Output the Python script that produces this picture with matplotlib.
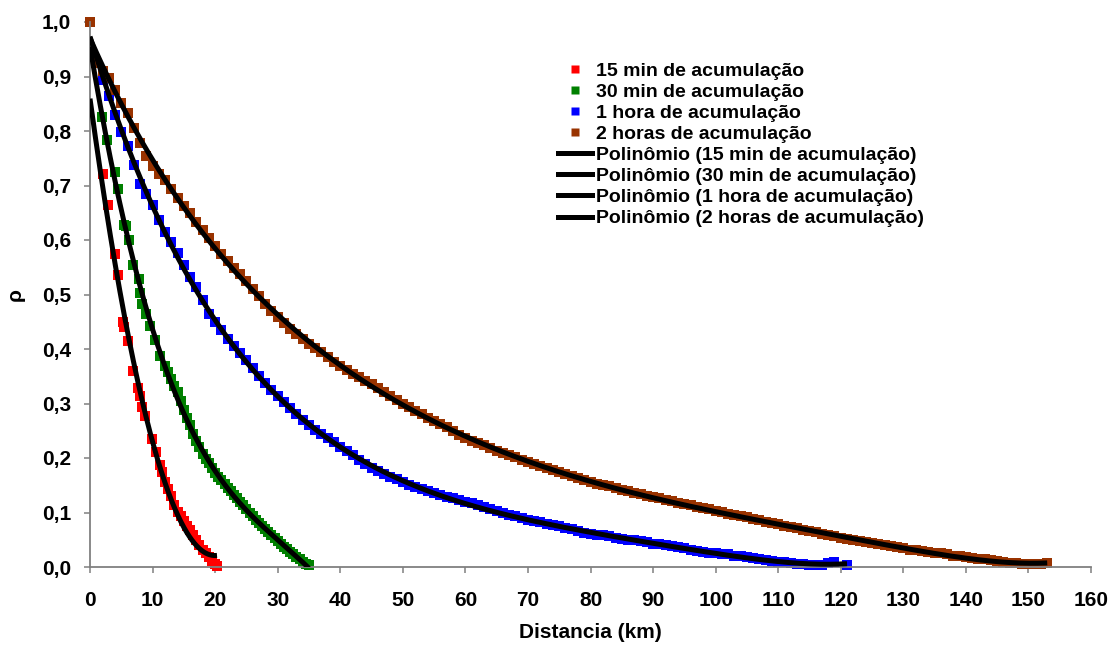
import numpy as np
import matplotlib.pyplot as plt
from matplotlib.lines import Line2D
from numpy.polynomial import Polynomial

plt.rcParams['font.family'] = ['Liberation Sans', 'DejaVu Sans']
plt.rcParams['font.weight'] = 'bold'

# --- data (distance in km, rho) ---

# 15 min de acumulação
x15 = [2.0, 2.9, 4.0, 4.4, 5.2, 5.4, 6.0, 6.8, 7.7, 8.0, 8.3, 8.8, 9.9, 10.5, 11.2, 11.5,
       12.0, 12.5, 13.0, 13.5, 14.0, 14.5, 15.0, 15.5, 16.0, 16.5, 17.0, 17.5, 18.0, 18.5,
       19.0, 19.5, 20.0, 20.3]
y15 = [0.722, 0.665, 0.575, 0.535, 0.450, 0.440, 0.414, 0.359, 0.329, 0.313, 0.294, 0.277,
       0.234, 0.211, 0.187, 0.174,
       0.156, 0.144, 0.130, 0.114, 0.101, 0.093, 0.084, 0.076, 0.067, 0.058, 0.049, 0.041, 0.032,
       0.025, 0.018, 0.011, 0.005, 0.002]

# 30 min de acumulação
x30 = [1.9, 2.7, 4.0, 4.4, 5.5, 5.7, 6.2, 6.9, 7.9, 8.0, 8.3, 9.0, 9.6, 10.4, 11.2,
       12.0, 12.5, 13.0, 13.5, 14.0, 14.5, 15.0, 15.5, 16.0, 16.5, 17.0, 17.5, 18.0, 18.5,
       19.0, 19.5, 20.0, 20.5, 21.0, 21.5, 22.0, 22.5, 23.0, 23.5, 24.0, 24.5, 25.0, 25.5,
       26.0, 26.5, 27.0, 27.5, 28.0, 28.5, 29.0, 29.5, 30.0, 30.5, 31.0, 31.5, 32.0, 32.5,
       33.0, 33.5, 34.0, 34.5, 35.0]
y30 = [0.826, 0.784, 0.724, 0.693, 0.627, 0.625, 0.600, 0.555, 0.529, 0.502, 0.483, 0.465,
       0.443, 0.416, 0.388,
       0.368, 0.357, 0.345, 0.333, 0.321, 0.305, 0.288, 0.274, 0.260, 0.244, 0.232, 0.220, 0.207,
       0.199, 0.190, 0.181, 0.173, 0.166, 0.159, 0.152, 0.145, 0.139, 0.133, 0.126, 0.119, 0.113,
       0.107, 0.100, 0.093, 0.087, 0.081, 0.075, 0.069, 0.064, 0.058, 0.053, 0.047, 0.042, 0.037,
       0.033, 0.028, 0.023, 0.019, 0.014, 0.010, 0.006, 0.003]

# 1 hora de acumulação (km 0..119, then 121)
x1h = list(range(0, 120)) + [121]
y1h = [1.000, 0.925, 0.893, 0.865, 0.829, 0.798, 0.773, 0.738, 0.703, 0.684,
       0.664, 0.636, 0.615, 0.597, 0.577, 0.555, 0.532, 0.514, 0.489, 0.465,
       0.449, 0.434, 0.419, 0.405, 0.392, 0.379, 0.365, 0.351, 0.338, 0.324,
       0.313, 0.302, 0.291, 0.280, 0.270, 0.261, 0.252, 0.244, 0.236, 0.229,
       0.221, 0.213, 0.205, 0.197, 0.189, 0.182, 0.176, 0.171, 0.166, 0.161,
       0.156, 0.151, 0.147, 0.143, 0.140, 0.136, 0.132, 0.129, 0.126, 0.123,
       0.120, 0.117, 0.114, 0.110, 0.106, 0.102, 0.099, 0.096, 0.093, 0.090,
       0.087, 0.085, 0.082, 0.079, 0.077, 0.075, 0.072, 0.069, 0.066, 0.063,
       0.061, 0.059, 0.058, 0.056, 0.054, 0.052, 0.050, 0.049, 0.047, 0.045,
       0.043, 0.042, 0.040, 0.038, 0.036, 0.034, 0.032, 0.030, 0.028, 0.026,
       0.025, 0.024, 0.023, 0.021, 0.020, 0.018, 0.017, 0.015, 0.013, 0.011,
       0.010, 0.009, 0.008, 0.006, 0.005, 0.004, 0.003, 0.003, 0.008, 0.009,
       0.004]

# 2 horas de acumulação (km 0..153)
x2h = list(range(0, 154))
y2h = [1.000, 0.925, 0.910, 0.897, 0.875, 0.852, 0.833, 0.806, 0.778, 0.755,
       0.736, 0.722, 0.710, 0.693, 0.677, 0.663, 0.649, 0.633, 0.618, 0.603,
       0.589, 0.575, 0.561, 0.549, 0.537, 0.525, 0.511, 0.497, 0.483, 0.469,
       0.458, 0.447, 0.437, 0.428, 0.419, 0.410, 0.402, 0.394, 0.386, 0.377,
       0.369, 0.362, 0.355, 0.348, 0.341, 0.335, 0.328, 0.321, 0.314, 0.307,
       0.300, 0.293, 0.286, 0.280, 0.274, 0.268, 0.262, 0.256, 0.249, 0.243,
       0.237, 0.232, 0.228, 0.223, 0.218, 0.213, 0.209, 0.205, 0.201, 0.197,
       0.193, 0.189, 0.185, 0.181, 0.178, 0.174, 0.170, 0.167, 0.163, 0.160,
       0.156, 0.153, 0.150, 0.148, 0.145, 0.142, 0.139, 0.136, 0.134, 0.131,
       0.128, 0.126, 0.123, 0.121, 0.118, 0.116, 0.113, 0.111, 0.108, 0.106,
       0.103, 0.101, 0.098, 0.096, 0.093, 0.091, 0.088, 0.086, 0.083, 0.081,
       0.078, 0.076, 0.073, 0.071, 0.068, 0.066, 0.064, 0.061, 0.059, 0.056,
       0.054, 0.052, 0.050, 0.048, 0.046, 0.044, 0.042, 0.040, 0.038, 0.036,
       0.034, 0.032, 0.031, 0.029, 0.028, 0.026, 0.025, 0.023, 0.021, 0.020,
       0.018, 0.017, 0.015, 0.014, 0.012, 0.011, 0.010, 0.008, 0.007, 0.006,
       0.005, 0.005, 0.006, 0.007]

names = ['15 min de acumulação', '30 min de acumulação',
         '1 hora de acumulação', '2 horas de acumulação']
colors = ['#FF0000', '#008000', '#0000FF', '#993300']
poly_order = [2, 3, 6, 6]   # trendline order per series
xticks = list(range(0, 161, 10))
yticks = [0.0, 0.1, 0.2, 0.3, 0.4, 0.5, 0.6, 0.7, 0.8, 0.9, 1.0]

data = [(x15, y15), (x30, y30), (x1h, y1h), (x2h, y2h)]

fig = plt.figure(figsize=(11.16, 6.59), dpi=100)
ax = fig.add_axes([90 / 1116, 92 / 659, 1001 / 1116, 545 / 659])

handles = []
for (xs, ys), name, col in zip(data, names, colors):
    ax.scatter(xs, ys, marker='s', s=44, color=col, linewidths=0, zorder=2, clip_on=False)
    handles.append(Line2D([], [], ls='none', marker='s', ms=5.5, color=col, mec='none',
                          label=name))

# polynomial trendlines, drawn on top of the markers
for (xs, ys), name, deg in zip(data, names, poly_order):
    fit = Polynomial.fit(xs, ys, deg)
    xf = np.linspace(0, max(xs), 600)
    ax.plot(xf, fit(xf), color='black', lw=3.6, zorder=3, solid_capstyle='butt')
    handles.append(Line2D([], [], color='black', lw=3.6,
                          label=f'Polinômio ({name})'))

ax.set_xlim(0, 160)
ax.set_ylim(0, 1.0)
ax.set_xticks(xticks)
ax.set_yticks(yticks)
ax.set_yticklabels([f'{v:.1f}'.replace('.', ',') for v in yticks])
for s in ['top', 'right']:
    ax.spines[s].set_visible(False)
for s in ['left', 'bottom']:
    ax.spines[s].set_color('#808080')
    ax.spines[s].set_linewidth(1.3)
ax.tick_params(axis='both', direction='out', length=4.5, width=1.1, color='#808080',
               labelsize=15)
ax.tick_params(axis='x', pad=13)
ax.tick_params(axis='y', pad=9)

ax.set_xlabel('Distancia (km)', fontsize=15, fontweight='bold')
ax.xaxis.set_label_coords(0.5, -0.102)
fig.text(15 / 1116, 1 - 295 / 659, 'ρ', rotation=90, fontsize=15, fontweight='bold',
         ha='center', va='center')

ax.legend(handles=handles, loc='upper left',
          bbox_to_anchor=(558 / 1116, 1 - 62 / 659), bbox_transform=fig.transFigure,
          frameon=False, fontsize=14, borderpad=0, borderaxespad=0,
          handlelength=1.75, handletextpad=0.2, labelspacing=0.18)

fig.savefig('out.png', dpi=100)
